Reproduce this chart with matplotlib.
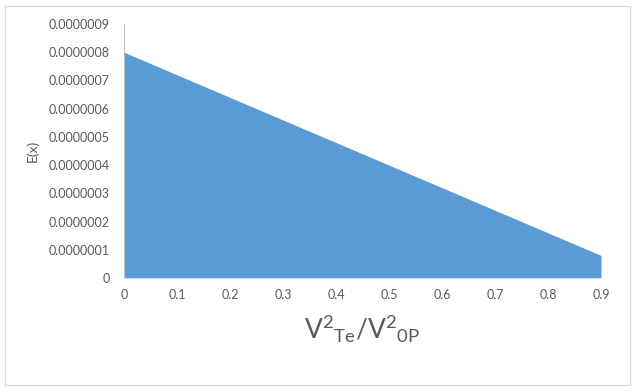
import matplotlib
matplotlib.use("Agg")
import matplotlib.pyplot as plt
from matplotlib.patches import Rectangle
from matplotlib.ticker import FuncFormatter

plt.rcParams['font.family'] = ['Lato', 'DejaVu Sans']
plt.rcParams['mathtext.fontset'] = 'custom'
plt.rcParams['mathtext.rm'] = 'Lato'

# Data
x_vals = [0.0, 0.1, 0.2, 0.3, 0.4, 0.5, 0.6, 0.7, 0.8, 0.9]
e_vals = [8.0e-7, 7.2e-7, 6.4e-7, 5.6e-7, 4.8e-7, 4.0e-7, 3.2e-7, 2.4e-7, 1.6e-7, 0.8e-7]
x_ticks = [0, 0.1, 0.2, 0.3, 0.4, 0.5, 0.6, 0.7, 0.8, 0.9]
y_ticks = [0, 1e-7, 2e-7, 3e-7, 4e-7, 5e-7, 6e-7, 7e-7, 8e-7, 9e-7]

W, H = 636, 392
fig = plt.figure(figsize=(W / 100, H / 100), dpi=100)
fig.patch.set_facecolor('white')

# Outer chart border
fig.add_artist(Rectangle((5 / W, 1 - 385 / H), (630 - 5) / W, (385 - 6) / H,
                         transform=fig.transFigure, fill=False,
                         edgecolor='#D9D9D9', linewidth=1.0))

left, right = 124 / W, 601 / W
bottom, top = 1 - 278 / H, 1 - 24 / H
ax = fig.add_axes([left, bottom, right - left, top - bottom])

ax.fill_between(x_vals, e_vals, 0, color='#5B9BD5', linewidth=0)

ax.set_xlim(0, 0.9)
ax.set_ylim(0, 9e-7)
ax.set_xticks(x_ticks)
ax.set_yticks(y_ticks)
ax.xaxis.set_major_formatter(FuncFormatter(lambda v, p: '0' if abs(v) < 1e-12 else f'{v:.1f}'))
ax.yaxis.set_major_formatter(FuncFormatter(lambda v, p: '0' if abs(v) < 1e-15 else f'{v:.7f}'))

for s in ['top', 'right']:
    ax.spines[s].set_visible(False)
ax.spines['left'].set_color('#BFBFBF')
ax.spines['bottom'].set_color('#D9D9D9')
ax.spines['left'].set_linewidth(0.8)
ax.spines['bottom'].set_linewidth(0.8)

ax.tick_params(axis='both', length=0, labelsize=9, colors='#595959')
ax.tick_params(axis='y', pad=10)
ax.tick_params(axis='x', pad=8)

ax.set_ylabel('E(x)', fontsize=10, color='#595959')
ax.yaxis.set_label_coords(-0.178, 0.5)

fig.text((124 + 601) / 2 / W, 1 - 329 / H,
         r'$\mathregular{V^2{}_{Te}/V^2{}_{0P}}$',
         ha='center', va='center', fontsize=19, color='#595959')

fig.savefig('out.png', dpi=100)
